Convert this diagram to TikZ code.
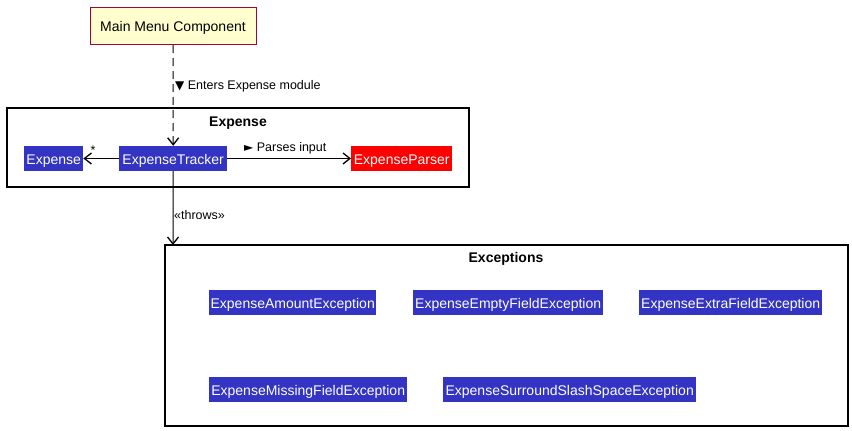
\documentclass[tikz,border=0pt]{standalone}
\usepackage{fontspec}
\setmainfont{Liberation Sans}
\newfontfamily\symfont{DejaVu Sans}
\usetikzlibrary{arrows.meta}
\definecolor{clsblue}{RGB}{51,51,196}
\definecolor{notefill}{RGB}{254,254,206}
\definecolor{noteborder}{RGB}{168,0,54}
\tikzset{
  cls/.style={fill=clsblue, text=white, inner sep=0pt, minimum height=25pt, text height=14pt, text depth=3pt, anchor=west, font=\fontsize{14}{16}\selectfont},
  pkg/.style={draw=black, line width=1.5pt},
  pkgtitle/.style={font=\fontsize{14}{16}\selectfont\bfseries, inner sep=0pt},
  lbl/.style={font=\fontsize{12.5}{14}\selectfont, inner sep=0pt},
  arr/.style={line width=1pt, -{Straight Barb[length=7pt,width=11pt,line width=1.3pt]}},
}
\begin{document}
\begin{tikzpicture}[x=1pt,y=-1pt]
\useasboundingbox (0,0) rectangle (852,431);
% main menu
\node[draw=noteborder, fill=notefill, line width=1pt, minimum width=166pt, minimum height=37pt, text height=14pt, text depth=3pt, inner sep=0pt, font=\fontsize{14}{16}\selectfont] (mm) at (173,26) {Main Menu Component};
% Expense package
\draw[pkg] (7,108) rectangle (469,187);
\node[pkgtitle] (exptitle) at (238,123) {Expense};
\node[cls, minimum width=59pt] (exp) at (24,158.5) {Expense};
\node[cls, minimum width=108pt] (et) at (119,158.5) {ExpenseTracker};
\node[cls, minimum width=101pt, fill=red] (ep) at (351,158.5) {ExpenseParser};
% Exceptions package
\draw[pkg] (165,245) rectangle (848,426);
\coordinate (exctop) at (173,245);
\node[pkgtitle] (exctitle) at (506,259) {Exceptions};
\node[cls, minimum width=167pt] (e1) at (209,302.5) {ExpenseAmountException};
\node[cls, minimum width=190pt] (e2) at (413,302.5) {ExpenseEmptyFieldException};
\node[cls, minimum width=183pt] (e3) at (639,302.5) {ExpenseExtraFieldException};
\node[cls, minimum width=198pt] (e4) at (209,389.5) {ExpenseMissingFieldException};
\node[cls, minimum width=253pt] (e5) at (443,389.5) {ExpenseSurroundSlashSpaceException};
% connectors
\draw[arr, dashed, dash pattern=on 8pt off 5pt] (mm.south) -- (et.north);
\node[lbl, anchor=west] (l1) at (175,86) {{\symfont\fontsize{12}{12}\selectfont ▼}\ Enters Expense module};
\draw[arr] (et.west) -- (exp.east);
\node[lbl, anchor=center] (star) at (93,150) {*};
\draw[arr] (et.east) -- (ep.west);
\node[lbl, anchor=west] (l2) at (244,148) {{\symfont\fontsize{12}{12}\selectfont ►}\ Parses input};
\draw[arr] (et.south) -- (exctop);
\node[lbl, anchor=west] (l3) at (174,215) {«throws»};
\end{tikzpicture}
\end{document}
